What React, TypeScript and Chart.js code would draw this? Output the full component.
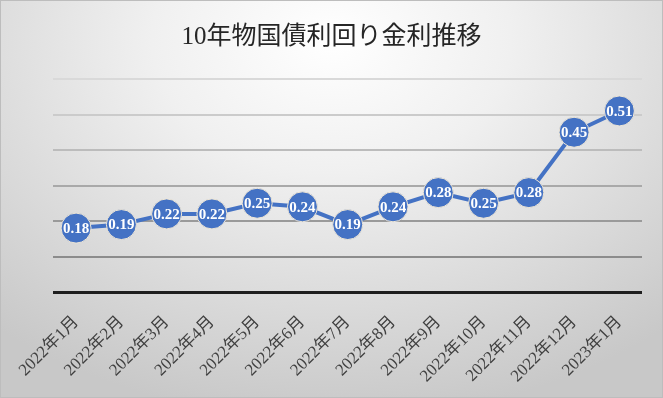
import React, { useEffect, useRef } from "react";
import { Chart, registerables } from "chart.js";

Chart.register(...registerables);

const TITLE = "10年物国債利回り金利推移";
const categories = [
  "2022年1月", "2022年2月", "2022年3月", "2022年4月", "2022年5月", "2022年6月",
  "2022年7月", "2022年8月", "2022年9月", "2022年10月", "2022年11月", "2022年12月", "2023年1月",
];
const yields = [0.18, 0.19, 0.22, 0.22, 0.25, 0.24, 0.19, 0.24, 0.28, 0.25, 0.28, 0.45, 0.51];
const yMin = 0;
const yMax = 0.6;
const yStep = 0.1;

const SERIF = '"Liberation Serif", "DejaVu Serif", "Noto Sans CJK JP", serif';
const BLUE = "#4472C4";

const gridColors: Record<string, string> = {
  "0": "#1e1e1e",
  "1": "#8c8c8c",
  "2": "#9a9a9a",
  "3": "#a9a9a9",
  "4": "#bcbcbc",
  "5": "#cbcbcb",
  "6": "#d9d9d9",
};

const bgPlugin = {
  id: "bgPlugin",
  beforeDraw(chart: any) {
    const { ctx, width, height } = chart;
    ctx.save();
    ctx.translate(width * 0.5, 40);
    ctx.scale(1.35, 1);
    const g = ctx.createRadialGradient(0, 0, 0, 0, 0, 380);
    g.addColorStop(0, "#ffffff");
    g.addColorStop(0.35, "#f0f0f0");
    g.addColorStop(1, "#c8c8c8");
    ctx.fillStyle = g;
    ctx.fillRect(-width, -height, width * 3, height * 3);
    ctx.restore();
    ctx.save();
    ctx.strokeStyle = "#bdbdbd";
    ctx.lineWidth = 1;
    ctx.strokeRect(0.5, 0.5, width - 1, height - 1);
    ctx.font = `25px ${SERIF}`;
    ctx.fillStyle = "#262626";
    ctx.textAlign = "center";
    ctx.textBaseline = "middle";
    ctx.fillText(TITLE, width / 2, 37);
    ctx.restore();
  },
};

const labelPlugin = {
  id: "labelPlugin",
  afterDatasetsDraw(chart: any) {
    const { ctx } = chart;
    const meta = chart.getDatasetMeta(0);
    ctx.save();
    ctx.font = `bold 15px ${SERIF}`;
    ctx.fillStyle = "#ffffff";
    ctx.textAlign = "center";
    ctx.textBaseline = "middle";
    meta.data.forEach((pt: any, i: number) => {
      ctx.fillText(yields[i].toFixed(2), pt.x, pt.y + 1);
    });
    ctx.restore();
  },
};

export default function App() {
  const ref = useRef<HTMLCanvasElement>(null);
  useEffect(() => {
    if (!ref.current) return;
    const chart = new Chart(ref.current, {
      type: "line",
      data: {
        labels: categories,
        datasets: [
          {
            data: yields,
            borderColor: BLUE,
            borderWidth: 4,
            backgroundColor: BLUE,
            pointBackgroundColor: BLUE,
            pointBorderColor: "#eee6d6",
            pointBorderWidth: 1,
            pointRadius: 15,
            pointHoverRadius: 15,
            tension: 0,
            clip: false,
          },
        ],
      },
      options: {
        animation: false,
        responsive: false,
        maintainAspectRatio: false,
        layout: { padding: { left: 52, right: 21, top: 79, bottom: 0 } },
        plugins: {
          legend: { display: false },
          tooltip: { enabled: false },
          title: { display: false },
        },
        scales: {
          x: {
            offset: true,
            grid: { display: false, drawTicks: false },
            border: { display: false },
            afterFit: (s: any) => {
              s.height = 106;
            },
            ticks: {
              color: "#404040",
              font: { family: SERIF, size: 17 },
              minRotation: 45,
              maxRotation: 45,
              autoSkip: false,
              padding: 20,
            },
          },
          y: {
            min: yMin,
            max: yMax,
            border: { display: false },
            ticks: { display: false, stepSize: yStep },
            grid: {
              drawTicks: false,
              color: (c: any) => gridColors[String(Math.round((c.tick?.value ?? 0) * 10))] || "#cccccc",
              lineWidth: (c: any) => (Math.round((c.tick?.value ?? 0) * 10) === 0 ? 3 : 2),
            },
          },
        },
      },
      plugins: [bgPlugin, labelPlugin],
    });
    return () => chart.destroy();
  }, []);
  return (
    <div style={{ position: "fixed", left: 0, top: 0, width: 663, height: 398 }}>
      <canvas ref={ref} width={663} height={398} style={{ display: "block" }} />
    </div>
  );
}
